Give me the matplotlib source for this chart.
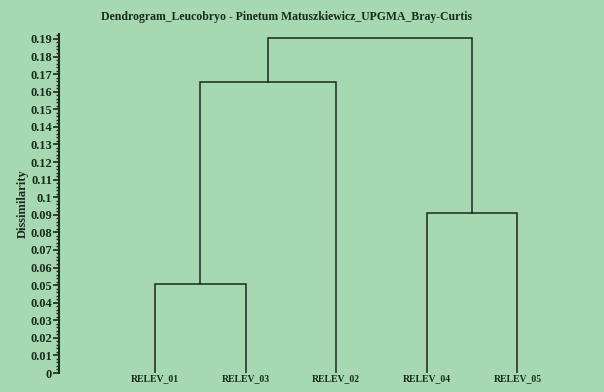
import numpy as np
import matplotlib.pyplot as plt
from matplotlib.ticker import MultipleLocator

# leaves in dendrogram order
leaves = ['RELEV_01', 'RELEV_03', 'RELEV_02', 'RELEV_04', 'RELEV_05']
# merges: (left child, right child, height); children < 5 are leaves, >= 5 are earlier merges
merge_left = [0, 5, 3, 6]
merge_right = [1, 2, 4, 7]
merge_height = [0.0505, 0.1655, 0.0910, 0.1905]

bg = '#a6d9b1'
ink = '#1a2a1c'
plt.rcParams['font.family'] = ['Liberation Serif', 'DejaVu Serif']
plt.rcParams['font.weight'] = 'bold'

fig = plt.figure(figsize=(6.04, 3.92), dpi=100, facecolor=bg)
ax = fig.add_axes([59 / 604, 19 / 392, 540 / 604, 339 / 392], facecolor=bg)

# node positions
xpos = {i: float(i) for i in range(len(leaves))}
ypos = {i: 0.0 for i in range(len(leaves))}
for k, (a, b, h) in enumerate(zip(merge_left, merge_right, merge_height)):
    node = len(leaves) + k
    ax.plot([xpos[a], xpos[a], xpos[b], xpos[b]], [ypos[a], h, h, ypos[b]],
            color=ink, lw=1.1, solid_joinstyle='miter')
    xpos[node] = (xpos[a] + xpos[b]) / 2
    ypos[node] = h

ax.set_xlim(-1.06, 4.9)
ax.set_ylim(0, 0.1928)

ax.set_xticks(range(len(leaves)))
ax.set_xticklabels(leaves, fontsize=7, fontweight='bold', color=ink)
ax.tick_params(axis='x', length=0, pad=0.5)

ax.yaxis.set_major_locator(MultipleLocator(0.01))
ax.yaxis.set_minor_locator(MultipleLocator(0.002))
ax.set_yticks(np.round(np.arange(0, 0.1901, 0.01), 2))
ax.set_yticklabels(['0'] + ['%g' % v for v in np.round(np.arange(0.01, 0.1901, 0.01), 2)],
                   fontsize=9, fontweight='bold', color=ink)
ax.tick_params(axis='y', which='major', length=4, width=1.2, color=ink, pad=1)
ax.tick_params(axis='y', which='minor', length=2, width=1.0, color=ink)

for s in ['top', 'right', 'bottom']:
    ax.spines[s].set_visible(False)
ax.spines['left'].set_color(ink)
ax.spines['left'].set_linewidth(1.5)

ax.set_ylabel('Dissimilarity', fontsize=9, fontweight='bold', color=ink, labelpad=1)
fig.text(0.475, 0.957, 'Dendrogram_Leucobryo - Pinetum Matuszkiewicz_UPGMA_Bray-Curtis',
         ha='center', va='center', fontsize=8.5, fontweight='bold', color=ink)

fig.savefig('out.png', dpi=100, facecolor=bg)
